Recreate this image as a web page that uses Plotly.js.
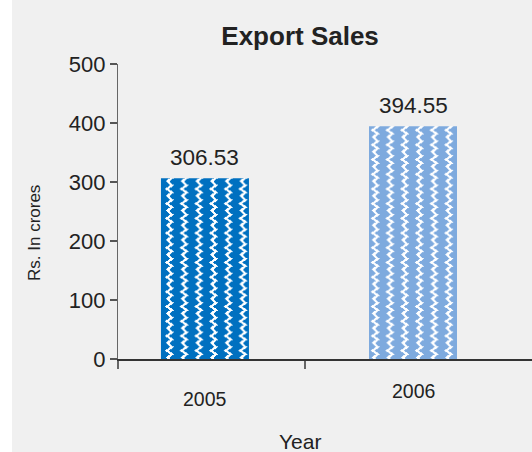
<!DOCTYPE html>
<html>
<head>
<meta charset="utf-8">
<script src="https://cdn.plot.ly/plotly-3.0.1.min.js"></script>
<style>
  html, body { margin: 0; padding: 0; background: #ffffff; }
  #chart { position: absolute; left: 12px; top: 0; width: 520px; height: 452px; }
</style>
</head>
<body>
<div id="chart"></div>
<script>
// ---- data ----
const years = ["2005", "2006"];
const sales = [306.53, 394.55];
const barColors = ["#0070c0", "#7eaade"];
const yTicks = [0, 100, 200, 300, 400, 500];
const chartTitle = "Export Sales";
const yTitle = "Rs. In crores";
const xTitle = "Year";

const idx = years.map((_, i) => i);
const xMin = -0.418, xMax = 1.572;

const labelOffsets = [-0.1356, -0.1085]; // paper-y positions of year labels (reference draws them at different heights)

const annotations = [];
years.forEach((yr, i) => {
  annotations.push({
    x: idx[i], y: labelOffsets[i], xref: 'x', yref: 'paper',
    text: yr, showarrow: false, xanchor: 'center', yanchor: 'middle',
    font: { family: 'Liberation Sans, Arial, sans-serif', size: 19.5, color: '#222' }
  });
  annotations.push({
    x: idx[i], y: sales[i], xref: 'x', yref: 'y',
    text: sales[i].toFixed(2), showarrow: false, xanchor: 'center', yanchor: 'bottom',
    yshift: 6,
    font: { family: 'Liberation Sans, Arial, sans-serif', size: 22.5, color: '#222' }
  });
});
annotations.push({
  x: 0.44, y: -0.28, xref: 'paper', yref: 'paper', text: xTitle, showarrow: false,
  xanchor: 'center', yanchor: 'middle',
  font: { family: 'Liberation Sans, Arial, sans-serif', size: 21, color: '#222' }
});
annotations.push({
  x: -0.203, y: 0.427, xref: 'paper', yref: 'paper', text: yTitle, showarrow: false,
  textangle: -90, xanchor: 'center', yanchor: 'middle',
  font: { family: 'Liberation Sans, Arial, sans-serif', size: 17, color: '#222' }
});

const trace = {
  type: 'bar',
  x: idx,
  y: sales,
  width: 0.423,
  marker: {
    color: barColors,
    line: { width: 0 },
    pattern: { shape: '|', fgcolor: '#ffffff', bgcolor: barColors, size: 14.7, solidity: 0.12, fillmode: 'overlay' }
  },
  hoverinfo: 'none'
};

const layout = {
  width: 520, height: 452,
  paper_bgcolor: '#f0f0f0',
  plot_bgcolor: '#f0f0f0',
  margin: { l: 106, r: 0, t: 64, b: 93 },
  showlegend: false,
  font: { family: 'Liberation Sans, Arial, sans-serif', color: '#222' },
  title: {
    text: '<b>' + chartTitle + '</b>',
    x: 0.554, xref: 'container', xanchor: 'center',
    y: 0.92, yref: 'container', yanchor: 'middle',
    font: { family: 'Liberation Sans, Arial, sans-serif', size: 26, color: '#222' }
  },
  xaxis: {
    range: [xMin, xMax],
    showgrid: false, zeroline: false,
    showline: true, linecolor: '#333', linewidth: 1.5,
    tickmode: 'array', tickvals: [xMin, 0.48], ticktext: ['', ''],
    ticks: 'outside', ticklen: 8, tickcolor: '#666', tickwidth: 1.5,
    showticklabels: false, fixedrange: true
  },
  yaxis: {
    range: [0, 500],
    showgrid: false, zeroline: false,
    showline: true, linecolor: '#666', linewidth: 1.2,
    tickmode: 'array', tickvals: yTicks,
    ticks: 'outside', ticklen: 7, tickcolor: '#555', tickwidth: 1.2,
    tickfont: { family: 'Liberation Sans, Arial, sans-serif', size: 22, color: '#222' },
    fixedrange: true
  },
  annotations: annotations
};

Plotly.newPlot('chart', [trace], layout, { staticPlot: true, displayModeBar: false }).then(gd => {
  // turn the vertical-line fill texture into a zigzag texture
  gd.querySelectorAll('pattern').forEach(p => {
    const w = parseFloat(p.getAttribute('width'));
    const h = parseFloat(p.getAttribute('height'));
    const path = p.querySelector('path');
    if (!path || !w || !h) return;
    const cx = w / 2, a = 2.5, n = 2, per = h / n;
    let d = 'M' + (cx - a) + ',-1';
    for (let i = 0; i < n; i++) {
      d += 'L' + (cx + a) + ',' + (i * per + per / 2) + 'L' + (cx - a) + ',' + ((i + 1) * per);
    }
    d += 'L' + (cx - a + 0.3) + ',' + (h + 1);
    path.setAttribute('d', d);
    path.setAttribute('shape-rendering', 'crispEdges');
    path.style.fill = 'none';
    path.style.stroke = '#ffffff';
    path.style.strokeWidth = '2.4';
    path.style.strokeOpacity = '1';
    path.style.opacity = '1';
    path.style.strokeLinejoin = 'miter';
  });
});
</script>
</body>
</html>
